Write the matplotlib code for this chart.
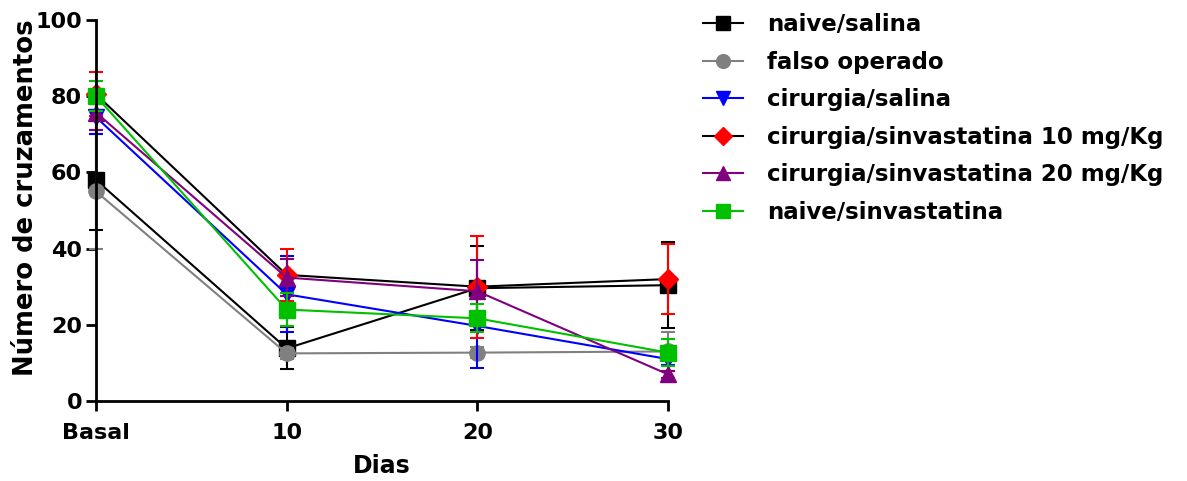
import numpy as np
import matplotlib.pyplot as plt

plt.rcParams['font.family'] = ['DejaVu Sans']
plt.rcParams['font.weight'] = 'bold'

dias = [0, 10, 20, 30]
dias_labels = ['Basal', '10', '20', '30']

naive_salina = [58, 13.8, 29.6, 30.4]
naive_salina_err = [13, 5.5, 11, 11.3]
falso_operado = [55, 12.5, 12.7, 13]
falso_operado_err = [15, 1.5, 1.5, 5]
cirurgia_salina = [74.5, 28, 19.7, 11]
cirurgia_salina_err = [4.5, 10, 11, 1.5]
sinva_10 = [80.5, 33.1, 30, 32]
sinva_10_err = [5.8, 6.8, 13.4, 9.1]
sinva_20 = [75.7, 32.4, 28.8, 7]
sinva_20_err = [4.6, 4.8, 8.3, 1]
naive_sinva = [80, 24, 21.7, 12.7]
naive_sinva_err = [3.9, 4.4, 3.7, 3.6]

# (label, values, errors, marker, marker colour, line colour)
series = [
    ('naive/salina', naive_salina, naive_salina_err, 's', 'black', 'black'),
    ('falso operado', falso_operado, falso_operado_err, 'o', '#808080', '#808080'),
    ('cirurgia/salina', cirurgia_salina, cirurgia_salina_err, 'v', '#0000ff', '#0000ff'),
    ('cirurgia/sinvastatina 10 mg/Kg', sinva_10, sinva_10_err, 'D', '#ff0000', 'black'),
    ('cirurgia/sinvastatina 20 mg/Kg', sinva_20, sinva_20_err, '^', '#800080', '#800080'),
    ('naive/sinvastatina', naive_sinva, naive_sinva_err, 's', '#00c000', '#00c000'),
]

px = 1/100
fig = plt.figure(figsize=(1187*px, 481*px), dpi=100)
ax = fig.add_axes([96/1187, 80/481, (668-96)/1187, 381/481])

handles = []
for label, vals, errs, mk, mcol, lcol in series:
    ms = 10 if mk == 'D' else 11
    ax.errorbar(dias, vals, yerr=errs, fmt='none', ecolor=mcol, elinewidth=1.5,
                capsize=5, capthick=1.5, clip_on=False)
    h, = ax.plot(dias, vals, color=lcol, lw=1.5, marker=mk, markersize=ms,
                 markerfacecolor=mcol, markeredgecolor=mcol, clip_on=False,
                 label=label)
    handles.append(h)

ax.set_xlim(0, 30)
ax.set_ylim(0, 100)
ax.set_xticks(dias)
ax.set_xticklabels(dias_labels)
ax.set_yticks([0, 20, 40, 60, 80, 100])
ax.spines['top'].set_visible(False)
ax.spines['right'].set_visible(False)
for s in ['left', 'bottom']:
    ax.spines[s].set_linewidth(2)
ax.tick_params(direction='out', length=7, width=2, labelsize=16, pad=3)
ax.tick_params(axis='x', pad=9)
for t in ax.get_xticklabels() + ax.get_yticklabels():
    t.set_fontweight('bold')
ax.set_xlabel('Dias', fontsize=17, fontweight='bold', labelpad=8)
ax.set_ylabel('Número de cruzamentos', fontsize=18.6, fontweight='bold')
ax.yaxis.set_label_coords(-0.1, 0.533)

fig.legend(handles=handles, loc='upper left', bbox_to_anchor=(703/1187, 0.972),
           frameon=False, handlelength=1.75, handletextpad=1.05,
           labelspacing=0.63, borderpad=0, borderaxespad=0, markerscale=0.9,
           prop={'weight': 'bold', 'size': 16.5})

fig.savefig('out.png', dpi=100)
